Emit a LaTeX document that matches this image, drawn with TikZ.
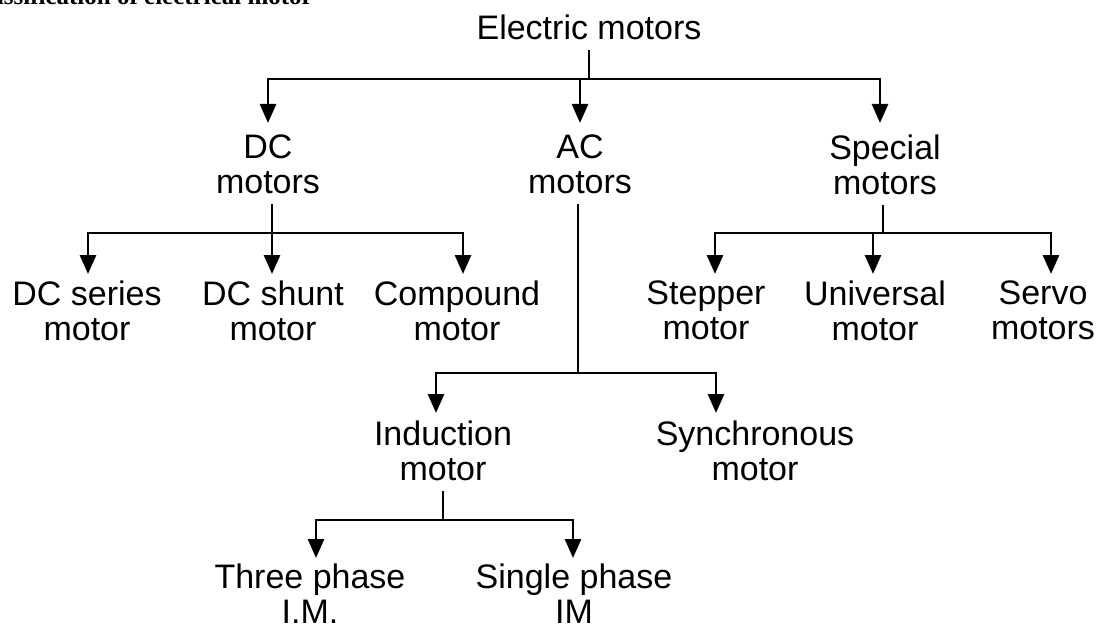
\documentclass[tikz,border=0pt]{standalone}
\usepackage{fontspec}
\setmainfont{Liberation Sans}
\newfontfamily\headserif{Liberation Serif}
\usetikzlibrary{arrows.meta}

\begin{document}
\begin{tikzpicture}[x=1pt, y=-1pt,
  >={Triangle[length=19pt,width=16pt]},
  label/.style={anchor=north, align=center, inner sep=0pt,
                font=\fontsize{34}{35}\selectfont},
  link/.style={line width=2.8pt},
  stem/.style={link, shorten <=10pt}]
  % page frame, the heading is cut by the top edge
  \clip (0,0) rectangle (1099,631);
  \useasboundingbox (0,0) rectangle (1099,631);
  \node[anchor=base east, inner sep=0pt,
        font=\headserif\bfseries\fontsize{25}{25}\selectfont] (head) at (313,5)
       {Classification of electrical motor};

  % root and first level
  \node[label] (root) at (589,15) {Electric motors};
  \node[label] (dc) at (268,135) {DC\\motors};
  \node[label] (ac) at (580,135) {AC\\motors};
  \node[label] (sp) at (885,135) {Special\\motors};

  % second level
  \node[label] (dcser) at (87,281) {DC series\\motor};
  \node[label] (dcsh) at (273,281) {DC shunt\\motor};
  \node[label] (dcco) at (457,281) {Compound\\motor};
  \node[label] (stepm) at (706,281) {Stepper\\motor};
  \node[label] (univ) at (875,281) {Universal\\motor};
  \node[label] (servo) at (1043,281) {Servo\\motors};

  % AC branch
  \node[label] (ind) at (443,421) {Induction\\motor};
  \node[label] (sync) at (755,421) {Synchronous\\motor};
  \node[label] (three) at (310,564) {Three phase\\I.M.};
  \node[label] (single) at (574,564) {Single phase\\IM};

  % junction points of the tree
  \coordinate (j0) at (589,79);
  \coordinate (j1) at (272,233);
  \coordinate (j2) at (883,233);
  \coordinate (j3) at (578,373);
  \coordinate (j4) at (443,520);

  % stems
  \draw[stem] (root.south -| j0) -- (j0);
  \draw[stem] (dc.south -| j1) -- (j1);
  \draw[stem] (sp.south -| j2) -- (j2);
  \draw[stem] (ac.south -| j3) -- (j3);
  \draw[stem] (ind.south -| j4) -- (j4);

  % branches with arrowheads (child / x offset from text centre)
  \foreach \c/\dx in {dc/0, ac/0, sp/-5}
    \draw[link,->] (j0) -| ([xshift=\dx pt, yshift=12pt]\c.north);
  \foreach \c/\dx in {dcser/1, dcsh/-1, dcco/6}
    \draw[link,->] (j1) -| ([xshift=\dx pt, yshift=7pt]\c.north);
  \foreach \c/\dx in {stepm/9, univ/-2, servo/8}
    \draw[link,->] (j2) -| ([xshift=\dx pt, yshift=7pt]\c.north);
  \foreach \c/\dx in {ind/-7, sync/-39}
    \draw[link,->] (j3) -| ([xshift=\dx pt, yshift=8pt]\c.north);
  \foreach \c/\dx in {three/6, single/-1}
    \draw[link,->] (j4) -| ([xshift=\dx pt, yshift=6pt]\c.north);
\end{tikzpicture}
\end{document}
